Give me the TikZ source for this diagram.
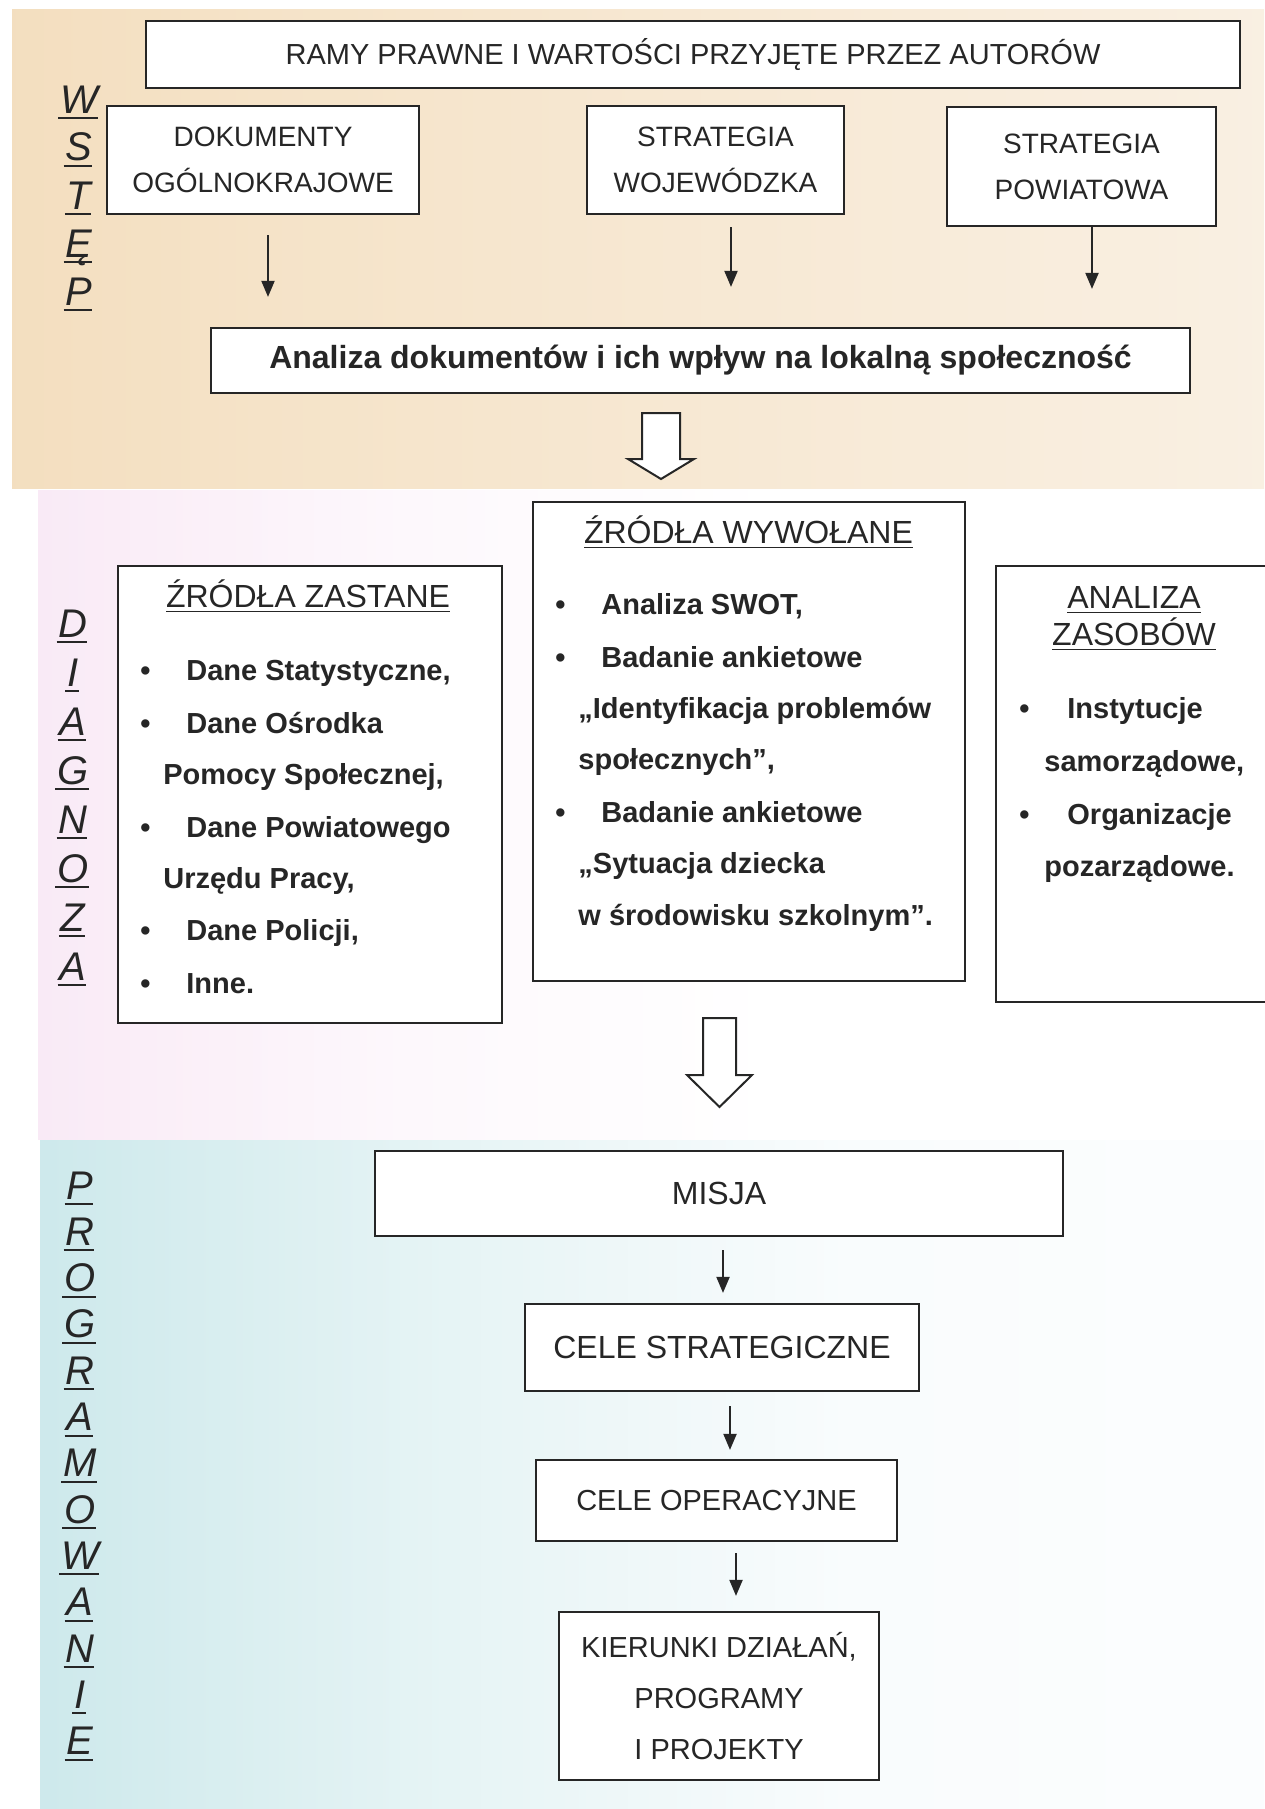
\documentclass[tikz,border=0pt]{standalone}
\usepackage{fontspec}
\setmainfont{Liberation Sans}
\usetikzlibrary{arrows.meta}
\definecolor{ink}{HTML}{262626}
\definecolor{beA}{HTML}{EFD3AA}
\definecolor{beB}{HTML}{F5E3C8}
\definecolor{beC}{HTML}{F9EEDF}
\definecolor{beD}{HTML}{FCF8F2}
\definecolor{piA}{HTML}{F6DFF1}
\definecolor{piB}{HTML}{F9EAF6}
\definecolor{piC}{HTML}{FDF8FC}
\definecolor{cyA}{HTML}{B9DEE2}
\definecolor{cyB}{HTML}{C9E7EA}
\definecolor{cyC}{HTML}{E4F3F4}
\definecolor{cyD}{HTML}{F9FCFD}
\pgfdeclarehorizontalshading{beigesh}{100bp}{color(0bp)=(beA); color(35bp)=(beB); color(70bp)=(beC); color(100bp)=(beD)}
\pgfdeclarehorizontalshading{pinksh}{100bp}{color(0bp)=(piA); color(25bp)=(piB); color(40bp)=(piC); color(55bp)=(white); color(100bp)=(white)}
\pgfdeclarehorizontalshading{cyansh}{100bp}{color(0bp)=(cyA); color(22bp)=(cyB); color(40bp)=(cyC); color(58bp)=(cyD); color(100bp)=(white)}
\newcommand\myul[1]{\setbox0=\hbox{#1}\rlap{\rule[-2.6pt]{\wd0}{0.8pt}}\box0}
\newcommand\mysul[1]{\setbox0=\hbox{#1}\rlap{\hspace*{-1pt}\rule[-3pt]{\dimexpr\wd0+1pt\relax}{1pt}}\box0}
\newcommand\myblt[1][23pt]{\makebox[#1][l]{•}}
\begin{document}
\begin{tikzpicture}[x=0.5pt,y=-0.5pt,
  box/.style={draw=ink, line width=1.1pt, fill=white, inner sep=0pt, align=center, text=ink},
  fa/.style={font=\fontsize{14}{23}\selectfont},
  fb/.style={font=\fontsize{14.5}{25.4}\selectfont},
  fc/.style={font=\fontsize{16}{19}\selectfont},
  side/.style={anchor=base, inner sep=0pt, text=ink, font=\fontsize{20}{20}\selectfont\itshape},
  head/.style={anchor=base, inner sep=0pt, text=ink, font=\fontsize{16}{19}\selectfont},
  li/.style={anchor=base west, inner sep=0pt, text=ink, font=\fontsize{14.5}{17}\selectfont\bfseries},
  arr/.style={draw=ink, line width=1pt, -{Triangle[length=8pt,width=6.5pt]}},
  hollow/.style={draw=ink, line width=1pt, fill=white, line join=miter}]
\fill[white] (0,0) rectangle (1264,1809);
\useasboundingbox (0,0) rectangle (1264,1809);
% section bands
\shade[shading=beigesh] (12,10) rectangle (1264,488);
\shade[shading=pinksh] (38,490) rectangle (1264,1139);
\shade[shading=cyansh] (40,1140) rectangle (1264,1809);
% side labels
\foreach \l [count=\i from 0] in {W,S,T,Ę,P}
  \node[side] (ws\i) at (79,{113+48*\i}) {\mysul{\l}};
\foreach \l [count=\i from 0] in {D,I,A,G,N,O,Z,A}
  \node[side] (dg\i) at (73,{637+49*\i}) {\mysul{\l}};
\foreach \l [count=\i from 0] in {P,R,O,G,R,A,M,O,W,A,N,I,E}
  \node[side] (pr\i) at (80,{1199+46.3*\i}) {\mysul{\l}};
% WSTEP boxes
\node[box, minimum width=547pt, minimum height=33.5pt, font=\fontsize{14.5}{17}\selectfont] (ramy) at (693,54.5) {RAMY PRAWNE I WARTOŚCI PRZYJĘTE PRZEZ AUTORÓW};
\node[box, fa, minimum width=156pt, minimum height=54pt] (dok) at (263,160) {DOKUMENTY\\OGÓLNOKRAJOWE};
\node[box, fa, minimum width=128.5pt, minimum height=54pt] (woj) at (715.5,160) {STRATEGIA\\WOJEWÓDZKA};
\node[box, fa, minimum width=134.5pt, minimum height=59.5pt] (pow) at (1081.5,166.5) {STRATEGIA\\POWIATOWA};
\node[box, minimum width=489.5pt, minimum height=32.5pt, font=\fontsize{16}{19}\selectfont\bfseries] (ana) at (700.5,360.5) {Analiza dokumentów i ich wpływ na lokalną społeczność};
\path ([xshift=2.5pt,yshift=-10pt]dok.south) coordinate (a1s);
\path ([xshift=7.75pt,yshift=-6pt]woj.south) coordinate (a2s);
\path ([xshift=5.25pt]pow.south) coordinate (a3s);
\draw[arr, shorten >=15pt] (a1s) -- (a1s |- ana.north);
\draw[arr, shorten >=20pt] (a2s) -- (a2s |- ana.north);
\draw[arr, shorten >=19pt] (a3s) -- (a3s |- ana.north);
% hollow arrow 1
\coordinate (ha) at (661,413);
\draw[hollow] (ha) ++(-19,0) -- ++(38,0) -- ++(0,46) -- ++(14,0) -- ++(-33,20) -- ++(-33,-20) -- ++(14,0) -- cycle;
% DIAGNOZA boxes
\node[box, minimum width=216pt, minimum height=239.5pt] (wyw) at (749,741.5) {};
\node[box, minimum width=192pt, minimum height=228.5pt] (zast) at (310,794.5) {};
\node[box, minimum width=137pt, minimum height=218pt] (zas) at (1133,784) {};
% zastane
\node[head] (zh) at (308,607) {\myul{ŹRÓDŁA ZASTANE}};
\node[li] (z1) at (140,680) {\myblt Dane Statystyczne,};
\node[li] (z2) at (140,733) {\myblt Dane Ośrodka};
\node[li] (z3) at (140,784) {\hspace*{11.5pt}Pomocy Społecznej,};
\node[li] (z4) at (140,837) {\myblt Dane Powiatowego};
\node[li] (z5) at (140,888) {\hspace*{11.5pt}Urzędu Pracy,};
\node[li] (z6) at (140,940) {\myblt Dane Policji,};
\node[li] (z7) at (140,993) {\myblt Inne.};
% wywolane
\node[head] (wh) at (748.5,543) {\myul{ŹRÓDŁA WYWOŁANE}};
\node[li] (w1) at (555,614) {\myblt Analiza SWOT,};
\node[li] (w2) at (555,667) {\myblt Badanie ankietowe};
\node[li] (w3) at (555,718) {\hspace*{11.5pt}„Identyfikacja problemów};
\node[li] (w4) at (555,769) {\hspace*{11.5pt}społecznych”,};
\node[li] (w5) at (555,822) {\myblt Badanie ankietowe};
\node[li] (w6) at (555,873) {\hspace*{11.5pt}„Sytuacja dziecka};
\node[li] (w7) at (555,925) {\hspace*{11.5pt}w środowisku szkolnym”.};
% zasoby
\node[head] (rh1) at (1134,608) {\myul{ANALIZA}};
\node[head] (rh2) at (1134,645) {\myul{ZASOBÓW}};
\node[li] (r1) at (1019,718) {\myblt[24pt]Instytucje};
\node[li] (r2) at (1019,771) {\hspace*{12.5pt}samorządowe,};
\node[li] (r3) at (1019,824) {\myblt[24pt]Organizacje};
\node[li] (r4) at (1019,876) {\hspace*{12.5pt}pozarządowe.};
% hollow arrow 2
\coordinate (hb) at (719.5,1018);
\draw[hollow] (hb) ++(-16.5,0) -- ++(33,0) -- ++(0,57) -- ++(16,0) -- ++(-32.5,32) -- ++(-32.5,-32) -- ++(16,0) -- cycle;
% PROGRAMOWANIE boxes
\node[box, fc, minimum width=344pt, minimum height=42.5pt] (misja) at (719,1193.5) {MISJA};
\node[box, fc, minimum width=197pt, minimum height=43.5pt] (cs) at (722,1347.5) {CELE STRATEGICZNE};
\node[box, font=\fontsize{14.5}{17}\selectfont, minimum width=180.5pt, minimum height=40.5pt] (co) at (716.5,1500.5) {CELE OPERACYJNE};
\node[box, fb, minimum width=160pt, minimum height=84pt] (kier) at (719,1696) {KIERUNKI DZIAŁAŃ,\\PROGRAMY\\I PROJEKTY};
\path ([xshift=2pt,yshift=-6.5pt]misja.south) coordinate (a4s);
\path ([xshift=4pt,yshift=-7pt]cs.south) coordinate (a5s);
\path ([xshift=9.75pt,yshift=-5.5pt]co.south) coordinate (a6s);
\draw[arr, shorten >=5pt] (a4s) -- (a4s |- cs.north);
\draw[arr, shorten >=4.5pt] (a5s) -- (a5s |- co.north);
\draw[arr, shorten >=7.5pt] (a6s) -- (a6s |- kier.north);
\end{tikzpicture}
\end{document}
